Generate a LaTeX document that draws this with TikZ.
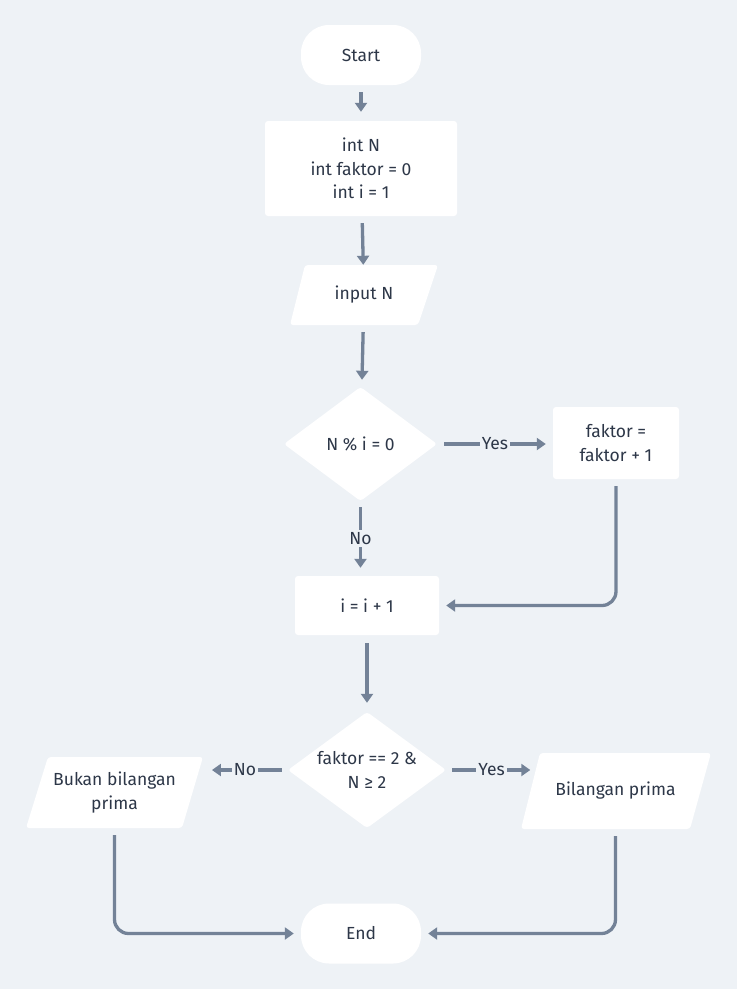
\documentclass[tikz,border=0pt]{standalone}
\usepackage{fontspec}
\setmainfont{Fira Sans}
\usetikzlibrary{arrows.meta}
\definecolor{bg}{HTML}{EEF2F6}
\definecolor{txt}{HTML}{2D3748}
\definecolor{ln}{HTML}{738297}
\begin{document}
\begin{tikzpicture}[x=1pt,y=-1pt,
 base/.style={font=\fontsize{17.5}{23.5}\selectfont, text=txt, align=center, inner sep=0pt},
 term/.style={base, fill=white, rounded corners=28pt, minimum width=120pt, minimum height=60pt},
 proc/.style={base, fill=white, rounded corners=3pt},
 dec/.style={base},
 io/.style={base},
 shapefill/.style={fill=white, rounded corners=3pt},
 conn/.style={draw=ln, line width=3.3pt, -{Triangle[width=12pt,length=9pt]}, shorten <=7pt, shorten >=7pt},
 lbl/.style={base, fill=bg, inner sep=2pt},
]
\fill[bg] (0,0) rectangle (737,989);
\useasboundingbox (0,0) rectangle (737,989);

\node[term] (start) at (361,55) {Start};
\node[proc, minimum width=192pt, minimum height=95pt] (init) at (361,168.5) {int N\\int faktor = 0\\int i = 1};
\fill[shapefill] (305,265) -- (438,265) -- (418,325) -- (290,325) -- cycle;
\node[io, minimum width=130.5pt, minimum height=60pt] (in) at (364,295) {input N};
\fill[shapefill] (360.5,387) -- (437,444) -- (360.5,501) -- (284,444) -- cycle;
\node[dec, minimum width=153pt, minimum height=114pt] (d1) at (360.5,444) {N \% i = 0};
\node[proc, minimum width=126pt, minimum height=72pt] (fak) at (616,443) {faktor =\\faktor + 1};
\node[proc, minimum width=144pt, minimum height=59pt] (inc) at (367,605.5) {i = i + 1};
\fill[shapefill] (367,712) -- (446,770) -- (367,828) -- (288,770) -- cycle;
\node[dec, minimum width=158pt, minimum height=116pt] (d2) at (367,770) {faktor == 2 \&\\N ≥ 2};
\fill[shapefill] (48,757) -- (203,757) -- (182,828) -- (26,828) -- cycle;
\node[io, minimum width=155.5pt, minimum height=71pt] (bukan) at (114.5,792.5) {Bukan bilangan\\prima};
\fill[shapefill] (540,753) -- (711,753) -- (690,829) -- (521,829) -- cycle;
\node[io, minimum width=170pt, minimum height=76pt] (prima) at (615.5,791) {Bilangan prima};
\node[term] (end) at (361,933.5) {End};

\draw[conn, shorten >=9pt] (start) -- (init);
\draw[conn, shorten >=0pt] (init) -- (in);
\draw[conn] (in) -- (d1);
\draw[conn] (d1.east) -- node[lbl]{Yes} (d1.east -| fak.west);
\draw[conn, shorten <=6pt, shorten >=8pt] (d1.south) -- node[lbl]{No} (d1.south |- inc.north);
\draw[conn, rounded corners=14pt] (fak.south) |- (inc.east);
\draw[conn, shorten <=8pt, shorten >=9pt] (inc.south) -- (inc.south |- d2.north);
\draw[conn, shorten <=6pt, shorten >=19.5pt] (d2.west) -- node[lbl, pos=0.45]{No} (d2.west -| bukan.east);
\draw[conn, shorten <=6pt, shorten >=0pt] (d2.east) -- node[lbl, pos=0.54]{Yes} (d2.east -| prima.west);
\draw[conn, rounded corners=14pt] (bukan.south) |- (end.west);
\draw[conn, rounded corners=14pt] (prima.south) |- (end.east);
\end{tikzpicture}
\end{document}
